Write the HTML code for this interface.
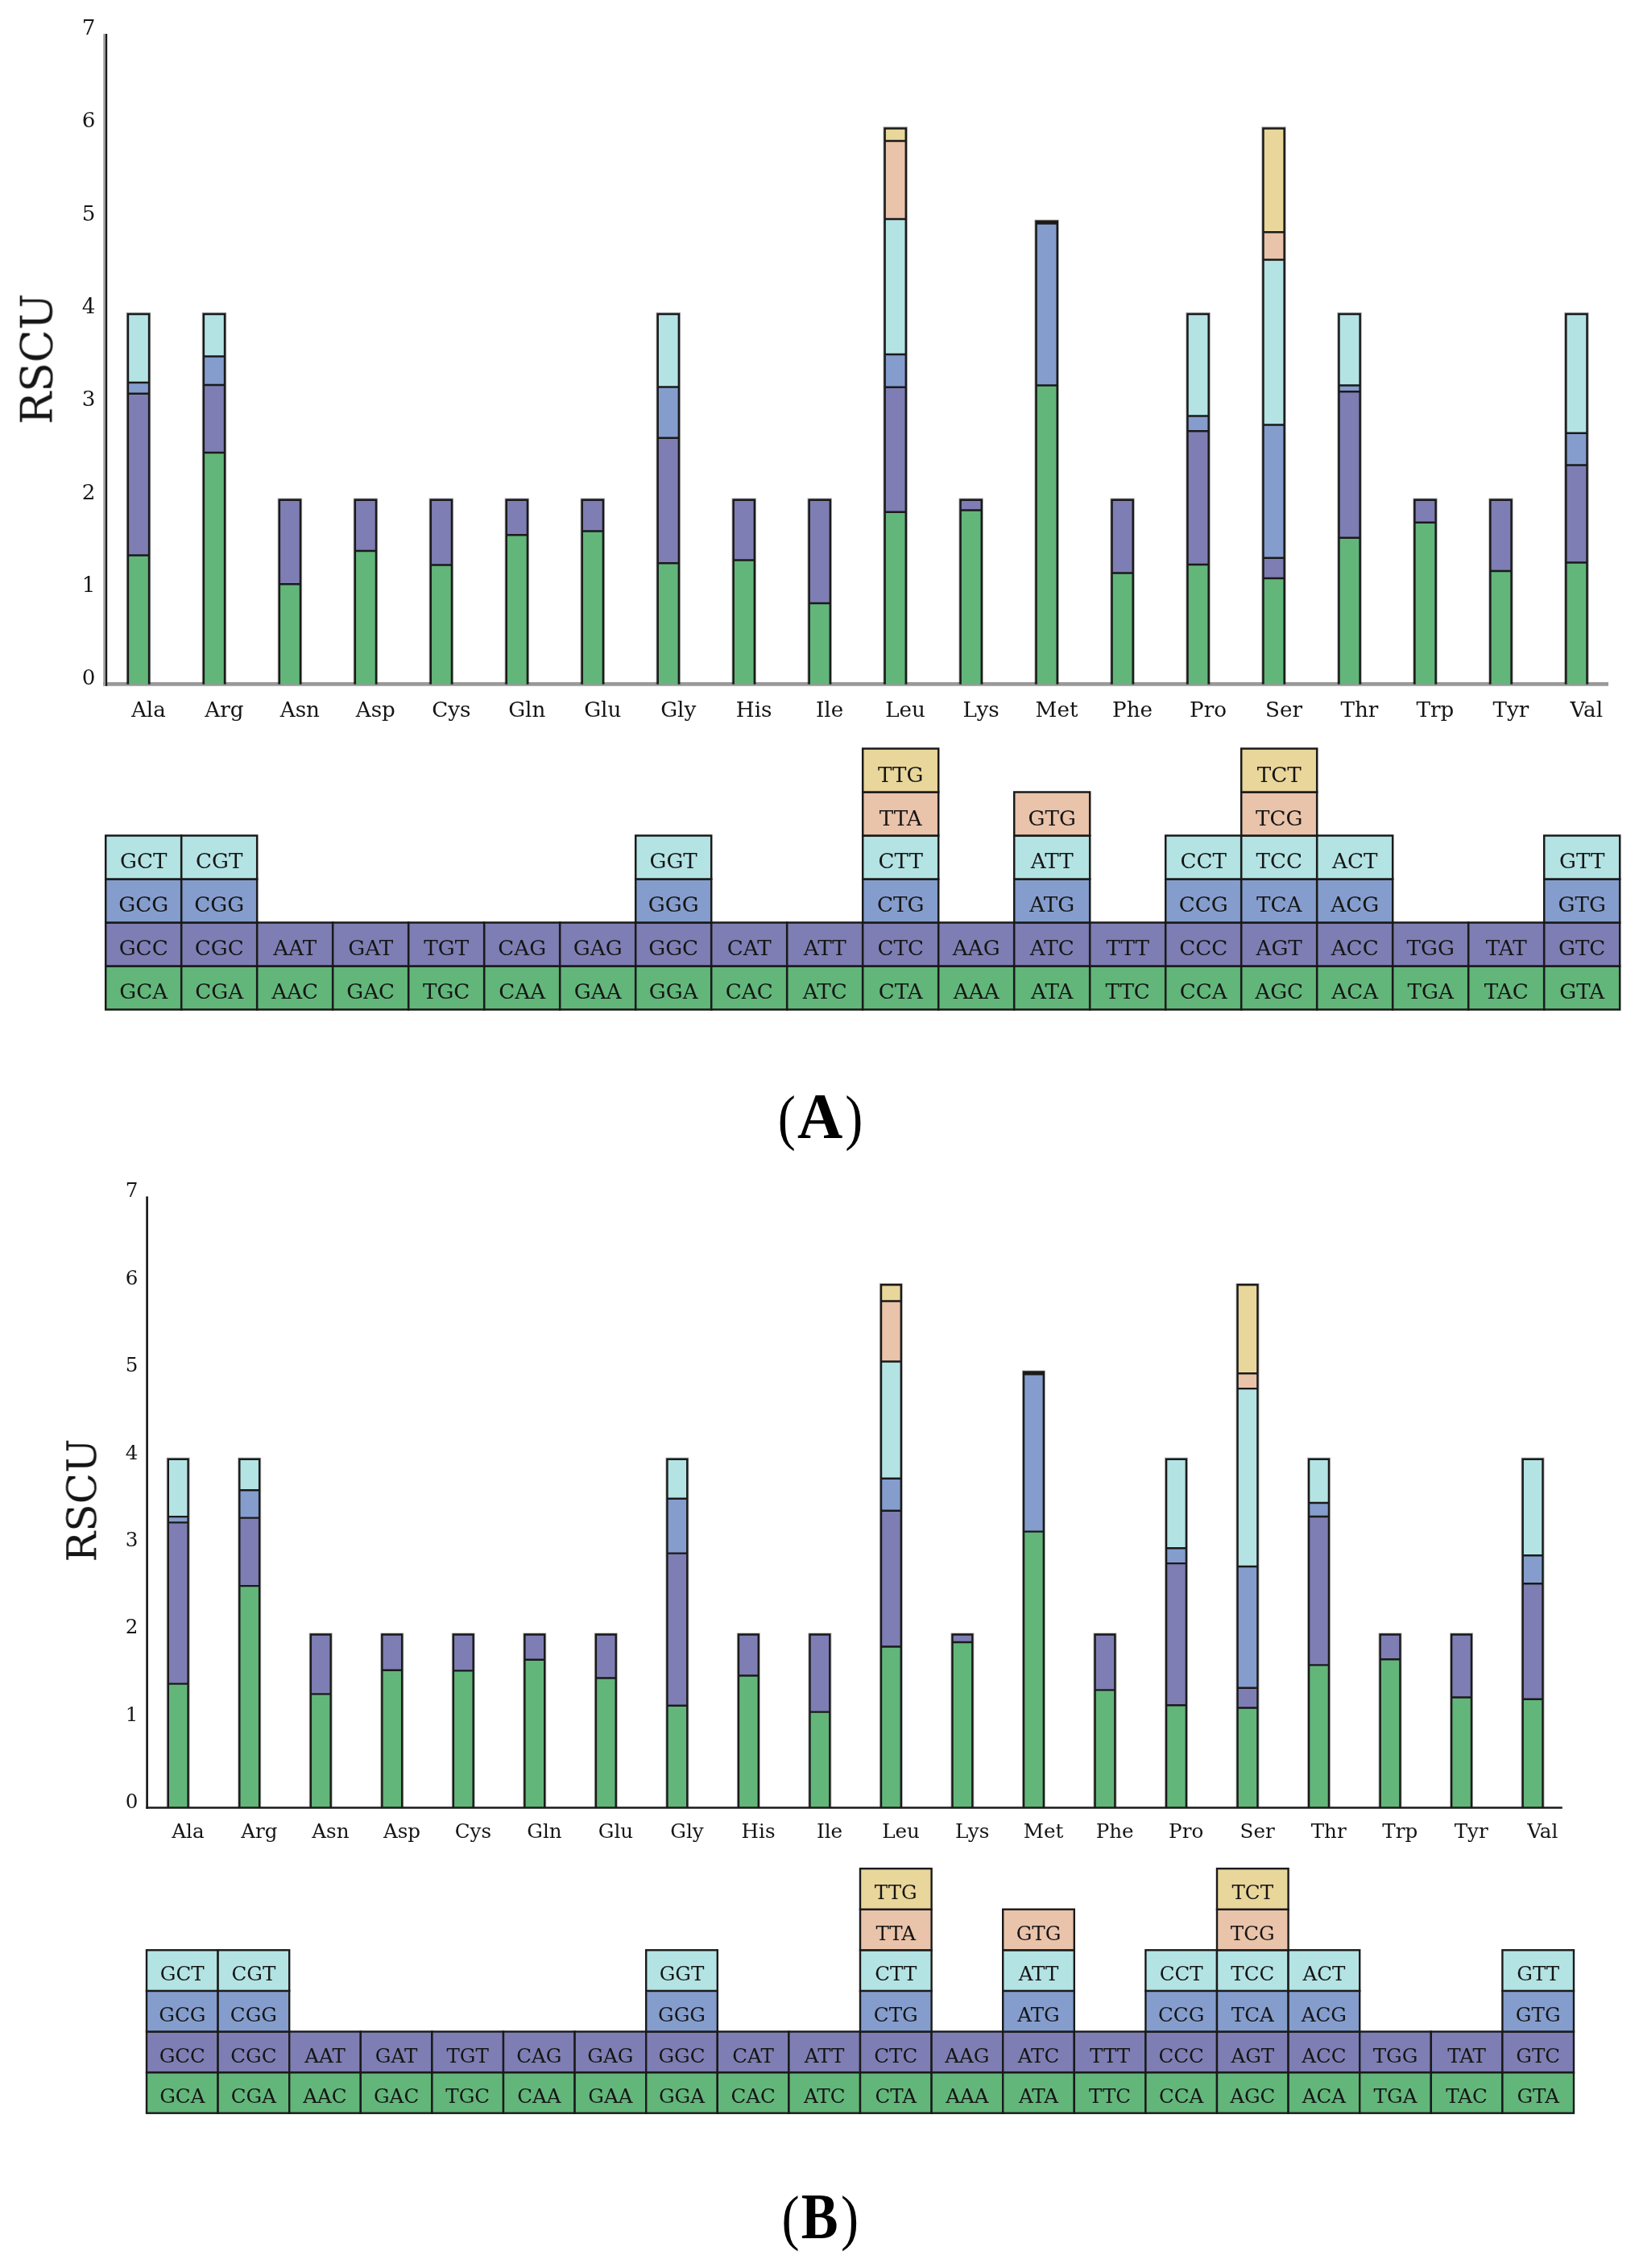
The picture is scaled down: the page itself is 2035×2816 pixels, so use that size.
<!DOCTYPE html>
<html><head><meta charset="utf-8"><title>RSCU</title>
<style>html,body{margin:0;padding:0;background:#fff;overflow:hidden}svg{display:block}</style>
</head><body>
<svg width="2035" height="2816" viewBox="0 0 2035 2816">
<defs><filter id="soft" x="0" y="0" width="100%" height="100%" filterUnits="userSpaceOnUse" color-interpolation-filters="sRGB"><feGaussianBlur stdDeviation="0.55"/></filter><filter id="softt" x="0" y="0" width="100%" height="100%" filterUnits="userSpaceOnUse" color-interpolation-filters="sRGB"><feGaussianBlur stdDeviation="0.45"/></filter></defs>
<rect width="2035" height="2816" fill="#fff"/>
<g filter="url(#soft)">
<line x1="128.3" y1="849.4" x2="1997" y2="849.4" stroke="#999" stroke-width="4.7"/>
<path d="M158.9 849.4V389.95H185.1V849.4" fill="none" stroke="#000" stroke-opacity="0.33" stroke-width="4.2"/>
<rect x="158.9" y="689.5" width="26.2" height="159.9" fill="#62b67a"/>
<rect x="158.9" y="488.8" width="26.2" height="200.7" fill="#7e7eb4"/>
<rect x="158.9" y="475.1" width="26.2" height="13.7" fill="#849dcd"/>
<rect x="158.9" y="388.7" width="26.2" height="86.4" fill="#b4e3e4"/>
<path d="M158.9 849.4V389.95H185.1V849.4M158.9 689.5H185.1M158.9 488.8H185.1M158.9 475.1H185.1" fill="none" stroke="#1a1a1a" stroke-width="2.5"/>
<path d="M252.87 849.4V389.95H279.07V849.4" fill="none" stroke="#000" stroke-opacity="0.33" stroke-width="4.2"/>
<rect x="252.87" y="562" width="26.2" height="287.4" fill="#62b67a"/>
<rect x="252.87" y="478.1" width="26.2" height="83.9" fill="#7e7eb4"/>
<rect x="252.87" y="442.4" width="26.2" height="35.7" fill="#849dcd"/>
<rect x="252.87" y="388.7" width="26.2" height="53.7" fill="#b4e3e4"/>
<path d="M252.87 849.4V389.95H279.07V849.4M252.87 562H279.07M252.87 478.1H279.07M252.87 442.4H279.07" fill="none" stroke="#1a1a1a" stroke-width="2.5"/>
<path d="M346.84 849.4V620.65H373.04V849.4" fill="none" stroke="#000" stroke-opacity="0.33" stroke-width="4.2"/>
<rect x="346.84" y="725.2" width="26.2" height="124.2" fill="#62b67a"/>
<rect x="346.84" y="619.4" width="26.2" height="105.8" fill="#7e7eb4"/>
<path d="M346.84 849.4V620.65H373.04V849.4M346.84 725.2H373.04" fill="none" stroke="#1a1a1a" stroke-width="2.5"/>
<path d="M440.81 849.4V620.65H467.01V849.4" fill="none" stroke="#000" stroke-opacity="0.33" stroke-width="4.2"/>
<rect x="440.81" y="684" width="26.2" height="165.4" fill="#62b67a"/>
<rect x="440.81" y="619.4" width="26.2" height="64.6" fill="#7e7eb4"/>
<path d="M440.81 849.4V620.65H467.01V849.4M440.81 684H467.01" fill="none" stroke="#1a1a1a" stroke-width="2.5"/>
<path d="M534.78 849.4V620.65H560.98V849.4" fill="none" stroke="#000" stroke-opacity="0.33" stroke-width="4.2"/>
<rect x="534.78" y="701.4" width="26.2" height="148" fill="#62b67a"/>
<rect x="534.78" y="619.4" width="26.2" height="82" fill="#7e7eb4"/>
<path d="M534.78 849.4V620.65H560.98V849.4M534.78 701.4H560.98" fill="none" stroke="#1a1a1a" stroke-width="2.5"/>
<path d="M628.75 849.4V620.65H654.95V849.4" fill="none" stroke="#000" stroke-opacity="0.33" stroke-width="4.2"/>
<rect x="628.75" y="664.2" width="26.2" height="185.2" fill="#62b67a"/>
<rect x="628.75" y="619.4" width="26.2" height="44.8" fill="#7e7eb4"/>
<path d="M628.75 849.4V620.65H654.95V849.4M628.75 664.2H654.95" fill="none" stroke="#1a1a1a" stroke-width="2.5"/>
<path d="M722.72 849.4V620.65H748.92V849.4" fill="none" stroke="#000" stroke-opacity="0.33" stroke-width="4.2"/>
<rect x="722.72" y="659.6" width="26.2" height="189.8" fill="#62b67a"/>
<rect x="722.72" y="619.4" width="26.2" height="40.2" fill="#7e7eb4"/>
<path d="M722.72 849.4V620.65H748.92V849.4M722.72 659.6H748.92" fill="none" stroke="#1a1a1a" stroke-width="2.5"/>
<path d="M816.69 849.4V389.95H842.89V849.4" fill="none" stroke="#000" stroke-opacity="0.33" stroke-width="4.2"/>
<rect x="816.69" y="699.3" width="26.2" height="150.1" fill="#62b67a"/>
<rect x="816.69" y="543.7" width="26.2" height="155.6" fill="#7e7eb4"/>
<rect x="816.69" y="480.6" width="26.2" height="63.1" fill="#849dcd"/>
<rect x="816.69" y="388.7" width="26.2" height="91.9" fill="#b4e3e4"/>
<path d="M816.69 849.4V389.95H842.89V849.4M816.69 699.3H842.89M816.69 543.7H842.89M816.69 480.6H842.89" fill="none" stroke="#1a1a1a" stroke-width="2.5"/>
<path d="M910.66 849.4V620.65H936.86V849.4" fill="none" stroke="#000" stroke-opacity="0.33" stroke-width="4.2"/>
<rect x="910.66" y="695.6" width="26.2" height="153.8" fill="#62b67a"/>
<rect x="910.66" y="619.4" width="26.2" height="76.2" fill="#7e7eb4"/>
<path d="M910.66 849.4V620.65H936.86V849.4M910.66 695.6H936.86" fill="none" stroke="#1a1a1a" stroke-width="2.5"/>
<path d="M1004.63 849.4V620.65H1030.83V849.4" fill="none" stroke="#000" stroke-opacity="0.33" stroke-width="4.2"/>
<rect x="1004.63" y="749" width="26.2" height="100.4" fill="#62b67a"/>
<rect x="1004.63" y="619.4" width="26.2" height="129.6" fill="#7e7eb4"/>
<path d="M1004.63 849.4V620.65H1030.83V849.4M1004.63 749H1030.83" fill="none" stroke="#1a1a1a" stroke-width="2.5"/>
<path d="M1098.6 849.4V159.45H1124.8V849.4" fill="none" stroke="#000" stroke-opacity="0.33" stroke-width="4.2"/>
<rect x="1098.6" y="635.7" width="26.2" height="213.7" fill="#62b67a"/>
<rect x="1098.6" y="480.7" width="26.2" height="155" fill="#7e7eb4"/>
<rect x="1098.6" y="440" width="26.2" height="40.7" fill="#849dcd"/>
<rect x="1098.6" y="271.9" width="26.2" height="168.1" fill="#b4e3e4"/>
<rect x="1098.6" y="175" width="26.2" height="96.9" fill="#e9c3aa"/>
<rect x="1098.6" y="158.2" width="26.2" height="16.8" fill="#e9d69a"/>
<path d="M1098.6 849.4V159.45H1124.8V849.4M1098.6 635.7H1124.8M1098.6 480.7H1124.8M1098.6 440H1124.8M1098.6 271.9H1124.8M1098.6 175H1124.8" fill="none" stroke="#1a1a1a" stroke-width="2.5"/>
<path d="M1192.57 849.4V620.65H1218.77V849.4" fill="none" stroke="#000" stroke-opacity="0.33" stroke-width="4.2"/>
<rect x="1192.57" y="633.4" width="26.2" height="216" fill="#62b67a"/>
<rect x="1192.57" y="619.4" width="26.2" height="14" fill="#7e7eb4"/>
<path d="M1192.57 849.4V620.65H1218.77V849.4M1192.57 633.4H1218.77" fill="none" stroke="#1a1a1a" stroke-width="2.5"/>
<path d="M1286.54 849.4V274.75H1312.74V849.4" fill="none" stroke="#000" stroke-opacity="0.33" stroke-width="4.2"/>
<rect x="1286.54" y="478.5" width="26.2" height="370.9" fill="#62b67a"/>
<rect x="1286.54" y="277.6" width="26.2" height="200.9" fill="#849dcd"/>
<rect x="1286.54" y="276.5" width="26.2" height="1.1" fill="#b4e3e4"/>
<rect x="1286.54" y="273.5" width="26.2" height="3" fill="#e9c3aa"/>
<path d="M1286.54 849.4V274.75H1312.74V849.4M1286.54 478.5H1312.74M1286.54 478.5H1312.74M1286.54 277.6H1312.74M1286.54 276.5H1312.74" fill="none" stroke="#1a1a1a" stroke-width="2.5"/>
<path d="M1380.51 849.4V620.65H1406.71V849.4" fill="none" stroke="#000" stroke-opacity="0.33" stroke-width="4.2"/>
<rect x="1380.51" y="711.4" width="26.2" height="138" fill="#62b67a"/>
<rect x="1380.51" y="619.4" width="26.2" height="92" fill="#7e7eb4"/>
<path d="M1380.51 849.4V620.65H1406.71V849.4M1380.51 711.4H1406.71" fill="none" stroke="#1a1a1a" stroke-width="2.5"/>
<path d="M1474.48 849.4V389.95H1500.68V849.4" fill="none" stroke="#000" stroke-opacity="0.33" stroke-width="4.2"/>
<rect x="1474.48" y="701" width="26.2" height="148.4" fill="#62b67a"/>
<rect x="1474.48" y="535.2" width="26.2" height="165.8" fill="#7e7eb4"/>
<rect x="1474.48" y="516.6" width="26.2" height="18.6" fill="#849dcd"/>
<rect x="1474.48" y="388.7" width="26.2" height="127.9" fill="#b4e3e4"/>
<path d="M1474.48 849.4V389.95H1500.68V849.4M1474.48 701H1500.68M1474.48 535.2H1500.68M1474.48 516.6H1500.68" fill="none" stroke="#1a1a1a" stroke-width="2.5"/>
<path d="M1568.45 849.4V159.45H1594.65V849.4" fill="none" stroke="#000" stroke-opacity="0.33" stroke-width="4.2"/>
<rect x="1568.45" y="718" width="26.2" height="131.4" fill="#62b67a"/>
<rect x="1568.45" y="692.8" width="26.2" height="25.2" fill="#7e7eb4"/>
<rect x="1568.45" y="527.4" width="26.2" height="165.4" fill="#849dcd"/>
<rect x="1568.45" y="322.5" width="26.2" height="204.9" fill="#b4e3e4"/>
<rect x="1568.45" y="288.2" width="26.2" height="34.3" fill="#e9c3aa"/>
<rect x="1568.45" y="158.2" width="26.2" height="130" fill="#e9d69a"/>
<path d="M1568.45 849.4V159.45H1594.65V849.4M1568.45 718H1594.65M1568.45 692.8H1594.65M1568.45 527.4H1594.65M1568.45 322.5H1594.65M1568.45 288.2H1594.65" fill="none" stroke="#1a1a1a" stroke-width="2.5"/>
<path d="M1662.42 849.4V389.95H1688.62V849.4" fill="none" stroke="#000" stroke-opacity="0.33" stroke-width="4.2"/>
<rect x="1662.42" y="667.7" width="26.2" height="181.7" fill="#62b67a"/>
<rect x="1662.42" y="486.3" width="26.2" height="181.4" fill="#7e7eb4"/>
<rect x="1662.42" y="478.5" width="26.2" height="7.8" fill="#849dcd"/>
<rect x="1662.42" y="388.7" width="26.2" height="89.8" fill="#b4e3e4"/>
<path d="M1662.42 849.4V389.95H1688.62V849.4M1662.42 667.7H1688.62M1662.42 486.3H1688.62M1662.42 478.5H1688.62" fill="none" stroke="#1a1a1a" stroke-width="2.5"/>
<path d="M1756.39 849.4V620.65H1782.59V849.4" fill="none" stroke="#000" stroke-opacity="0.33" stroke-width="4.2"/>
<rect x="1756.39" y="648.8" width="26.2" height="200.6" fill="#62b67a"/>
<rect x="1756.39" y="619.4" width="26.2" height="29.4" fill="#7e7eb4"/>
<path d="M1756.39 849.4V620.65H1782.59V849.4M1756.39 648.8H1782.59" fill="none" stroke="#1a1a1a" stroke-width="2.5"/>
<path d="M1850.36 849.4V620.65H1876.56V849.4" fill="none" stroke="#000" stroke-opacity="0.33" stroke-width="4.2"/>
<rect x="1850.36" y="709.1" width="26.2" height="140.3" fill="#62b67a"/>
<rect x="1850.36" y="619.4" width="26.2" height="89.7" fill="#7e7eb4"/>
<path d="M1850.36 849.4V620.65H1876.56V849.4M1850.36 709.1H1876.56" fill="none" stroke="#1a1a1a" stroke-width="2.5"/>
<path d="M1944.33 849.4V389.95H1970.53V849.4" fill="none" stroke="#000" stroke-opacity="0.33" stroke-width="4.2"/>
<rect x="1944.33" y="698.4" width="26.2" height="151" fill="#62b67a"/>
<rect x="1944.33" y="577.6" width="26.2" height="120.8" fill="#7e7eb4"/>
<rect x="1944.33" y="537.8" width="26.2" height="39.8" fill="#849dcd"/>
<rect x="1944.33" y="388.7" width="26.2" height="149.1" fill="#b4e3e4"/>
<path d="M1944.33 849.4V389.95H1970.53V849.4M1944.33 698.4H1970.53M1944.33 577.6H1970.53M1944.33 537.8H1970.53" fill="none" stroke="#1a1a1a" stroke-width="2.5"/>
<line x1="129.65" y1="42" x2="129.65" y2="851.75" stroke="#999" stroke-width="2.7"/>
<line x1="132.1" y1="42" x2="132.1" y2="851.75" stroke="#1a1a1a" stroke-width="2.2"/>
<g stroke-width="2.5" stroke="#1a1a1a">
<rect x="131.2" y="1199.5" width="94" height="54" fill="#62b67a"/>
<rect x="225.2" y="1199.5" width="94" height="54" fill="#62b67a"/>
<rect x="319.2" y="1199.5" width="94" height="54" fill="#62b67a"/>
<rect x="413.2" y="1199.5" width="94" height="54" fill="#62b67a"/>
<rect x="507.2" y="1199.5" width="94" height="54" fill="#62b67a"/>
<rect x="601.2" y="1199.5" width="94" height="54" fill="#62b67a"/>
<rect x="695.2" y="1199.5" width="94" height="54" fill="#62b67a"/>
<rect x="789.2" y="1199.5" width="94" height="54" fill="#62b67a"/>
<rect x="883.2" y="1199.5" width="94" height="54" fill="#62b67a"/>
<rect x="977.2" y="1199.5" width="94" height="54" fill="#62b67a"/>
<rect x="1071.2" y="1199.5" width="94" height="54" fill="#62b67a"/>
<rect x="1165.2" y="1199.5" width="94" height="54" fill="#62b67a"/>
<rect x="1259.2" y="1199.5" width="94" height="54" fill="#62b67a"/>
<rect x="1353.2" y="1199.5" width="94" height="54" fill="#62b67a"/>
<rect x="1447.2" y="1199.5" width="94" height="54" fill="#62b67a"/>
<rect x="1541.2" y="1199.5" width="94" height="54" fill="#62b67a"/>
<rect x="1635.2" y="1199.5" width="94" height="54" fill="#62b67a"/>
<rect x="1729.2" y="1199.5" width="94" height="54" fill="#62b67a"/>
<rect x="1823.2" y="1199.5" width="94" height="54" fill="#62b67a"/>
<rect x="1917.2" y="1199.5" width="94" height="54" fill="#62b67a"/>
<rect x="131.2" y="1145.5" width="94" height="54" fill="#7e7eb4"/>
<rect x="225.2" y="1145.5" width="94" height="54" fill="#7e7eb4"/>
<rect x="319.2" y="1145.5" width="94" height="54" fill="#7e7eb4"/>
<rect x="413.2" y="1145.5" width="94" height="54" fill="#7e7eb4"/>
<rect x="507.2" y="1145.5" width="94" height="54" fill="#7e7eb4"/>
<rect x="601.2" y="1145.5" width="94" height="54" fill="#7e7eb4"/>
<rect x="695.2" y="1145.5" width="94" height="54" fill="#7e7eb4"/>
<rect x="789.2" y="1145.5" width="94" height="54" fill="#7e7eb4"/>
<rect x="883.2" y="1145.5" width="94" height="54" fill="#7e7eb4"/>
<rect x="977.2" y="1145.5" width="94" height="54" fill="#7e7eb4"/>
<rect x="1071.2" y="1145.5" width="94" height="54" fill="#7e7eb4"/>
<rect x="1165.2" y="1145.5" width="94" height="54" fill="#7e7eb4"/>
<rect x="1259.2" y="1145.5" width="94" height="54" fill="#7e7eb4"/>
<rect x="1353.2" y="1145.5" width="94" height="54" fill="#7e7eb4"/>
<rect x="1447.2" y="1145.5" width="94" height="54" fill="#7e7eb4"/>
<rect x="1541.2" y="1145.5" width="94" height="54" fill="#7e7eb4"/>
<rect x="1635.2" y="1145.5" width="94" height="54" fill="#7e7eb4"/>
<rect x="1729.2" y="1145.5" width="94" height="54" fill="#7e7eb4"/>
<rect x="1823.2" y="1145.5" width="94" height="54" fill="#7e7eb4"/>
<rect x="1917.2" y="1145.5" width="94" height="54" fill="#7e7eb4"/>
<rect x="131.2" y="1091.5" width="94" height="54" fill="#849dcd"/>
<rect x="225.2" y="1091.5" width="94" height="54" fill="#849dcd"/>
<rect x="789.2" y="1091.5" width="94" height="54" fill="#849dcd"/>
<rect x="1071.2" y="1091.5" width="94" height="54" fill="#849dcd"/>
<rect x="1259.2" y="1091.5" width="94" height="54" fill="#849dcd"/>
<rect x="1447.2" y="1091.5" width="94" height="54" fill="#849dcd"/>
<rect x="1541.2" y="1091.5" width="94" height="54" fill="#849dcd"/>
<rect x="1635.2" y="1091.5" width="94" height="54" fill="#849dcd"/>
<rect x="1917.2" y="1091.5" width="94" height="54" fill="#849dcd"/>
<rect x="131.2" y="1037.5" width="94" height="54" fill="#b4e3e4"/>
<rect x="225.2" y="1037.5" width="94" height="54" fill="#b4e3e4"/>
<rect x="789.2" y="1037.5" width="94" height="54" fill="#b4e3e4"/>
<rect x="1071.2" y="1037.5" width="94" height="54" fill="#b4e3e4"/>
<rect x="1259.2" y="1037.5" width="94" height="54" fill="#b4e3e4"/>
<rect x="1447.2" y="1037.5" width="94" height="54" fill="#b4e3e4"/>
<rect x="1541.2" y="1037.5" width="94" height="54" fill="#b4e3e4"/>
<rect x="1635.2" y="1037.5" width="94" height="54" fill="#b4e3e4"/>
<rect x="1917.2" y="1037.5" width="94" height="54" fill="#b4e3e4"/>
<rect x="1071.2" y="983.5" width="94" height="54" fill="#e9c3aa"/>
<rect x="1259.2" y="983.5" width="94" height="54" fill="#e9c3aa"/>
<rect x="1541.2" y="983.5" width="94" height="54" fill="#e9c3aa"/>
<rect x="1071.2" y="929.5" width="94" height="54" fill="#e9d69a"/>
<rect x="1541.2" y="929.5" width="94" height="54" fill="#e9d69a"/>
</g>
</g>
<g filter="url(#softt)" font-family="'DejaVu Serif', 'Liberation Serif', serif" fill="#151515" font-size="26.2" text-anchor="middle">
<text x="110.2" y="850.2">0</text>
<text x="110.2" y="734.9">1</text>
<text x="110.2" y="619.6">2</text>
<text x="110.2" y="504.3">3</text>
<text x="110.2" y="389">4</text>
<text x="110.2" y="273.7">5</text>
<text x="110.2" y="158.4">6</text>
<text x="110.2" y="43.1">7</text>
<text x="184.4" y="890">Ala</text>
<text x="278.37" y="890">Arg</text>
<text x="372.34" y="890">Asn</text>
<text x="466.31" y="890">Asp</text>
<text x="560.28" y="890">Cys</text>
<text x="654.25" y="890">Gln</text>
<text x="748.22" y="890">Glu</text>
<text x="842.19" y="890">Gly</text>
<text x="936.16" y="890">His</text>
<text x="1030.13" y="890">Ile</text>
<text x="1124.1" y="890">Leu</text>
<text x="1218.07" y="890">Lys</text>
<text x="1312.04" y="890">Met</text>
<text x="1406.01" y="890">Phe</text>
<text x="1499.98" y="890">Pro</text>
<text x="1593.95" y="890">Ser</text>
<text x="1687.92" y="890">Thr</text>
<text x="1781.89" y="890">Trp</text>
<text x="1875.86" y="890">Tyr</text>
<text x="1969.83" y="890">Val</text>
<text font-size="53.4" transform="translate(64.7 445.7) rotate(-90)">RSCU</text>
<text x="178.2" y="1239.8">GCA</text>
<text x="272.2" y="1239.8">CGA</text>
<text x="366.2" y="1239.8">AAC</text>
<text x="460.2" y="1239.8">GAC</text>
<text x="554.2" y="1239.8">TGC</text>
<text x="648.2" y="1239.8">CAA</text>
<text x="742.2" y="1239.8">GAA</text>
<text x="836.2" y="1239.8">GGA</text>
<text x="930.2" y="1239.8">CAC</text>
<text x="1024.2" y="1239.8">ATC</text>
<text x="1118.2" y="1239.8">CTA</text>
<text x="1212.2" y="1239.8">AAA</text>
<text x="1306.2" y="1239.8">ATA</text>
<text x="1400.2" y="1239.8">TTC</text>
<text x="1494.2" y="1239.8">CCA</text>
<text x="1588.2" y="1239.8">AGC</text>
<text x="1682.2" y="1239.8">ACA</text>
<text x="1776.2" y="1239.8">TGA</text>
<text x="1870.2" y="1239.8">TAC</text>
<text x="1964.2" y="1239.8">GTA</text>
<text x="178.2" y="1185.8">GCC</text>
<text x="272.2" y="1185.8">CGC</text>
<text x="366.2" y="1185.8">AAT</text>
<text x="460.2" y="1185.8">GAT</text>
<text x="554.2" y="1185.8">TGT</text>
<text x="648.2" y="1185.8">CAG</text>
<text x="742.2" y="1185.8">GAG</text>
<text x="836.2" y="1185.8">GGC</text>
<text x="930.2" y="1185.8">CAT</text>
<text x="1024.2" y="1185.8">ATT</text>
<text x="1118.2" y="1185.8">CTC</text>
<text x="1212.2" y="1185.8">AAG</text>
<text x="1306.2" y="1185.8">ATC</text>
<text x="1400.2" y="1185.8">TTT</text>
<text x="1494.2" y="1185.8">CCC</text>
<text x="1588.2" y="1185.8">AGT</text>
<text x="1682.2" y="1185.8">ACC</text>
<text x="1776.2" y="1185.8">TGG</text>
<text x="1870.2" y="1185.8">TAT</text>
<text x="1964.2" y="1185.8">GTC</text>
<text x="178.2" y="1131.8">GCG</text>
<text x="272.2" y="1131.8">CGG</text>
<text x="836.2" y="1131.8">GGG</text>
<text x="1118.2" y="1131.8">CTG</text>
<text x="1306.2" y="1131.8">ATG</text>
<text x="1494.2" y="1131.8">CCG</text>
<text x="1588.2" y="1131.8">TCA</text>
<text x="1682.2" y="1131.8">ACG</text>
<text x="1964.2" y="1131.8">GTG</text>
<text x="178.2" y="1077.8">GCT</text>
<text x="272.2" y="1077.8">CGT</text>
<text x="836.2" y="1077.8">GGT</text>
<text x="1118.2" y="1077.8">CTT</text>
<text x="1306.2" y="1077.8">ATT</text>
<text x="1494.2" y="1077.8">CCT</text>
<text x="1588.2" y="1077.8">TCC</text>
<text x="1682.2" y="1077.8">ACT</text>
<text x="1964.2" y="1077.8">GTT</text>
<text x="1118.2" y="1024.9">TTA</text>
<text x="1306.2" y="1024.9">GTG</text>
<text x="1588.2" y="1024.9">TCG</text>
<text x="1118.2" y="970.9">TTG</text>
<text x="1588.2" y="970.9">TCT</text>
</g>
<g filter="url(#soft)">
<path d="M208.8 2244.5V1811.8H233.6V2244.5" fill="none" stroke="#000" stroke-opacity="0.33" stroke-width="4.1"/>
<rect x="208.8" y="2090.6" width="24.8" height="153.9" fill="#62b67a"/>
<rect x="208.8" y="1890.4" width="24.8" height="200.2" fill="#7e7eb4"/>
<rect x="208.8" y="1883.1" width="24.8" height="7.3" fill="#849dcd"/>
<rect x="208.8" y="1810.6" width="24.8" height="72.5" fill="#b4e3e4"/>
<path d="M208.8 2244.5V1811.8H233.6V2244.5M208.8 2090.6H233.6M208.8 1890.4H233.6M208.8 1883.1H233.6" fill="none" stroke="#1a1a1a" stroke-width="2.4"/>
<path d="M297.32 2244.5V1811.8H322.12V2244.5" fill="none" stroke="#000" stroke-opacity="0.33" stroke-width="4.1"/>
<rect x="297.32" y="1969.1" width="24.8" height="275.4" fill="#62b67a"/>
<rect x="297.32" y="1884.6" width="24.8" height="84.5" fill="#7e7eb4"/>
<rect x="297.32" y="1850.2" width="24.8" height="34.4" fill="#849dcd"/>
<rect x="297.32" y="1810.6" width="24.8" height="39.6" fill="#b4e3e4"/>
<path d="M297.32 2244.5V1811.8H322.12V2244.5M297.32 1969.1H322.12M297.32 1884.6H322.12M297.32 1850.2H322.12" fill="none" stroke="#1a1a1a" stroke-width="2.4"/>
<path d="M385.84 2244.5V2029.5H410.64V2244.5" fill="none" stroke="#000" stroke-opacity="0.33" stroke-width="4.1"/>
<rect x="385.84" y="2103.4" width="24.8" height="141.1" fill="#62b67a"/>
<rect x="385.84" y="2028.3" width="24.8" height="75.1" fill="#7e7eb4"/>
<path d="M385.84 2244.5V2029.5H410.64V2244.5M385.84 2103.4H410.64" fill="none" stroke="#1a1a1a" stroke-width="2.4"/>
<path d="M474.36 2244.5V2029.5H499.16V2244.5" fill="none" stroke="#000" stroke-opacity="0.33" stroke-width="4.1"/>
<rect x="474.36" y="2073.8" width="24.8" height="170.7" fill="#62b67a"/>
<rect x="474.36" y="2028.3" width="24.8" height="45.5" fill="#7e7eb4"/>
<path d="M474.36 2244.5V2029.5H499.16V2244.5M474.36 2073.8H499.16" fill="none" stroke="#1a1a1a" stroke-width="2.4"/>
<path d="M562.88 2244.5V2029.5H587.68V2244.5" fill="none" stroke="#000" stroke-opacity="0.33" stroke-width="4.1"/>
<rect x="562.88" y="2074.4" width="24.8" height="170.1" fill="#62b67a"/>
<rect x="562.88" y="2028.3" width="24.8" height="46.1" fill="#7e7eb4"/>
<path d="M562.88 2244.5V2029.5H587.68V2244.5M562.88 2074.4H587.68" fill="none" stroke="#1a1a1a" stroke-width="2.4"/>
<path d="M651.4 2244.5V2029.5H676.2V2244.5" fill="none" stroke="#000" stroke-opacity="0.33" stroke-width="4.1"/>
<rect x="651.4" y="2060.7" width="24.8" height="183.8" fill="#62b67a"/>
<rect x="651.4" y="2028.3" width="24.8" height="32.4" fill="#7e7eb4"/>
<path d="M651.4 2244.5V2029.5H676.2V2244.5M651.4 2060.7H676.2" fill="none" stroke="#1a1a1a" stroke-width="2.4"/>
<path d="M739.92 2244.5V2029.5H764.72V2244.5" fill="none" stroke="#000" stroke-opacity="0.33" stroke-width="4.1"/>
<rect x="739.92" y="2083.5" width="24.8" height="161" fill="#62b67a"/>
<rect x="739.92" y="2028.3" width="24.8" height="55.2" fill="#7e7eb4"/>
<path d="M739.92 2244.5V2029.5H764.72V2244.5M739.92 2083.5H764.72" fill="none" stroke="#1a1a1a" stroke-width="2.4"/>
<path d="M828.44 2244.5V1811.8H853.24V2244.5" fill="none" stroke="#000" stroke-opacity="0.33" stroke-width="4.1"/>
<rect x="828.44" y="2117.7" width="24.8" height="126.8" fill="#62b67a"/>
<rect x="828.44" y="1928.6" width="24.8" height="189.1" fill="#7e7eb4"/>
<rect x="828.44" y="1860.8" width="24.8" height="67.8" fill="#849dcd"/>
<rect x="828.44" y="1810.6" width="24.8" height="50.2" fill="#b4e3e4"/>
<path d="M828.44 2244.5V1811.8H853.24V2244.5M828.44 2117.7H853.24M828.44 1928.6H853.24M828.44 1860.8H853.24" fill="none" stroke="#1a1a1a" stroke-width="2.4"/>
<path d="M916.96 2244.5V2029.5H941.76V2244.5" fill="none" stroke="#000" stroke-opacity="0.33" stroke-width="4.1"/>
<rect x="916.96" y="2080.5" width="24.8" height="164" fill="#62b67a"/>
<rect x="916.96" y="2028.3" width="24.8" height="52.2" fill="#7e7eb4"/>
<path d="M916.96 2244.5V2029.5H941.76V2244.5M916.96 2080.5H941.76" fill="none" stroke="#1a1a1a" stroke-width="2.4"/>
<path d="M1005.48 2244.5V2029.5H1030.28V2244.5" fill="none" stroke="#000" stroke-opacity="0.33" stroke-width="4.1"/>
<rect x="1005.48" y="2125.6" width="24.8" height="118.9" fill="#62b67a"/>
<rect x="1005.48" y="2028.3" width="24.8" height="97.3" fill="#7e7eb4"/>
<path d="M1005.48 2244.5V2029.5H1030.28V2244.5M1005.48 2125.6H1030.28" fill="none" stroke="#1a1a1a" stroke-width="2.4"/>
<path d="M1094 2244.5V1595.2H1118.8V2244.5" fill="none" stroke="#000" stroke-opacity="0.33" stroke-width="4.1"/>
<rect x="1094" y="2044.5" width="24.8" height="200" fill="#62b67a"/>
<rect x="1094" y="1875.8" width="24.8" height="168.7" fill="#7e7eb4"/>
<rect x="1094" y="1835.7" width="24.8" height="40.1" fill="#849dcd"/>
<rect x="1094" y="1690.5" width="24.8" height="145.2" fill="#b4e3e4"/>
<rect x="1094" y="1615.5" width="24.8" height="75" fill="#e9c3aa"/>
<rect x="1094" y="1594" width="24.8" height="21.5" fill="#e9d69a"/>
<path d="M1094 2244.5V1595.2H1118.8V2244.5M1094 2044.5H1118.8M1094 1875.8H1118.8M1094 1835.7H1118.8M1094 1690.5H1118.8M1094 1615.5H1118.8" fill="none" stroke="#1a1a1a" stroke-width="2.4"/>
<path d="M1182.52 2244.5V2029.5H1207.32V2244.5" fill="none" stroke="#000" stroke-opacity="0.33" stroke-width="4.1"/>
<rect x="1182.52" y="2039" width="24.8" height="205.5" fill="#62b67a"/>
<rect x="1182.52" y="2028.3" width="24.8" height="10.7" fill="#7e7eb4"/>
<path d="M1182.52 2244.5V2029.5H1207.32V2244.5M1182.52 2039H1207.32" fill="none" stroke="#1a1a1a" stroke-width="2.4"/>
<path d="M1271.04 2244.5V1703.5H1295.84V2244.5" fill="none" stroke="#000" stroke-opacity="0.33" stroke-width="4.1"/>
<rect x="1271.04" y="1901.6" width="24.8" height="342.9" fill="#62b67a"/>
<rect x="1271.04" y="1706.4" width="24.8" height="195.2" fill="#849dcd"/>
<rect x="1271.04" y="1705.4" width="24.8" height="1" fill="#b4e3e4"/>
<rect x="1271.04" y="1702.3" width="24.8" height="3.1" fill="#e9c3aa"/>
<path d="M1271.04 2244.5V1703.5H1295.84V2244.5M1271.04 1901.6H1295.84M1271.04 1901.6H1295.84M1271.04 1706.4H1295.84M1271.04 1705.4H1295.84" fill="none" stroke="#1a1a1a" stroke-width="2.4"/>
<path d="M1359.56 2244.5V2029.5H1384.36V2244.5" fill="none" stroke="#000" stroke-opacity="0.33" stroke-width="4.1"/>
<rect x="1359.56" y="2098.4" width="24.8" height="146.1" fill="#62b67a"/>
<rect x="1359.56" y="2028.3" width="24.8" height="70.1" fill="#7e7eb4"/>
<path d="M1359.56 2244.5V2029.5H1384.36V2244.5M1359.56 2098.4H1384.36" fill="none" stroke="#1a1a1a" stroke-width="2.4"/>
<path d="M1448.08 2244.5V1811.8H1472.88V2244.5" fill="none" stroke="#000" stroke-opacity="0.33" stroke-width="4.1"/>
<rect x="1448.08" y="2117.3" width="24.8" height="127.2" fill="#62b67a"/>
<rect x="1448.08" y="1941.1" width="24.8" height="176.2" fill="#7e7eb4"/>
<rect x="1448.08" y="1922.2" width="24.8" height="18.9" fill="#849dcd"/>
<rect x="1448.08" y="1810.6" width="24.8" height="111.6" fill="#b4e3e4"/>
<path d="M1448.08 2244.5V1811.8H1472.88V2244.5M1448.08 2117.3H1472.88M1448.08 1941.1H1472.88M1448.08 1922.2H1472.88" fill="none" stroke="#1a1a1a" stroke-width="2.4"/>
<path d="M1536.6 2244.5V1595.2H1561.4V2244.5" fill="none" stroke="#000" stroke-opacity="0.33" stroke-width="4.1"/>
<rect x="1536.6" y="2120.5" width="24.8" height="124" fill="#62b67a"/>
<rect x="1536.6" y="2095.7" width="24.8" height="24.8" fill="#7e7eb4"/>
<rect x="1536.6" y="1945" width="24.8" height="150.7" fill="#849dcd"/>
<rect x="1536.6" y="1724.1" width="24.8" height="220.9" fill="#b4e3e4"/>
<rect x="1536.6" y="1705.2" width="24.8" height="18.9" fill="#e9c3aa"/>
<rect x="1536.6" y="1594" width="24.8" height="111.2" fill="#e9d69a"/>
<path d="M1536.6 2244.5V1595.2H1561.4V2244.5M1536.6 2120.5H1561.4M1536.6 2095.7H1561.4M1536.6 1945H1561.4M1536.6 1724.1H1561.4M1536.6 1705.2H1561.4" fill="none" stroke="#1a1a1a" stroke-width="2.4"/>
<path d="M1625.12 2244.5V1811.8H1649.92V2244.5" fill="none" stroke="#000" stroke-opacity="0.33" stroke-width="4.1"/>
<rect x="1625.12" y="2067.4" width="24.8" height="177.1" fill="#62b67a"/>
<rect x="1625.12" y="1883" width="24.8" height="184.4" fill="#7e7eb4"/>
<rect x="1625.12" y="1866" width="24.8" height="17" fill="#849dcd"/>
<rect x="1625.12" y="1810.6" width="24.8" height="55.4" fill="#b4e3e4"/>
<path d="M1625.12 2244.5V1811.8H1649.92V2244.5M1625.12 2067.4H1649.92M1625.12 1883H1649.92M1625.12 1866H1649.92" fill="none" stroke="#1a1a1a" stroke-width="2.4"/>
<path d="M1713.64 2244.5V2029.5H1738.44V2244.5" fill="none" stroke="#000" stroke-opacity="0.33" stroke-width="4.1"/>
<rect x="1713.64" y="2060.2" width="24.8" height="184.3" fill="#62b67a"/>
<rect x="1713.64" y="2028.3" width="24.8" height="31.9" fill="#7e7eb4"/>
<path d="M1713.64 2244.5V2029.5H1738.44V2244.5M1713.64 2060.2H1738.44" fill="none" stroke="#1a1a1a" stroke-width="2.4"/>
<path d="M1802.16 2244.5V2029.5H1826.96V2244.5" fill="none" stroke="#000" stroke-opacity="0.33" stroke-width="4.1"/>
<rect x="1802.16" y="2107.5" width="24.8" height="137" fill="#62b67a"/>
<rect x="1802.16" y="2028.3" width="24.8" height="79.2" fill="#7e7eb4"/>
<path d="M1802.16 2244.5V2029.5H1826.96V2244.5M1802.16 2107.5H1826.96" fill="none" stroke="#1a1a1a" stroke-width="2.4"/>
<path d="M1890.68 2244.5V1811.8H1915.48V2244.5" fill="none" stroke="#000" stroke-opacity="0.33" stroke-width="4.1"/>
<rect x="1890.68" y="2109.8" width="24.8" height="134.7" fill="#62b67a"/>
<rect x="1890.68" y="1966.2" width="24.8" height="143.6" fill="#7e7eb4"/>
<rect x="1890.68" y="1931.3" width="24.8" height="34.9" fill="#849dcd"/>
<rect x="1890.68" y="1810.6" width="24.8" height="120.7" fill="#b4e3e4"/>
<path d="M1890.68 2244.5V1811.8H1915.48V2244.5M1890.68 2109.8H1915.48M1890.68 1966.2H1915.48M1890.68 1931.3H1915.48" fill="none" stroke="#1a1a1a" stroke-width="2.4"/>
<line x1="182.6" y1="1485.6" x2="182.6" y2="2245.8" stroke="#1a1a1a" stroke-width="2.7"/>
<line x1="181.25" y1="2244.5" x2="1939.8" y2="2244.5" stroke="#1a1a1a" stroke-width="2.6"/>
<g stroke-width="2.4" stroke="#1a1a1a">
<rect x="182" y="2573.1" width="88.6" height="50.6" fill="#62b67a"/>
<rect x="270.6" y="2573.1" width="88.6" height="50.6" fill="#62b67a"/>
<rect x="359.2" y="2573.1" width="88.6" height="50.6" fill="#62b67a"/>
<rect x="447.8" y="2573.1" width="88.6" height="50.6" fill="#62b67a"/>
<rect x="536.4" y="2573.1" width="88.6" height="50.6" fill="#62b67a"/>
<rect x="625" y="2573.1" width="88.6" height="50.6" fill="#62b67a"/>
<rect x="713.6" y="2573.1" width="88.6" height="50.6" fill="#62b67a"/>
<rect x="802.2" y="2573.1" width="88.6" height="50.6" fill="#62b67a"/>
<rect x="890.8" y="2573.1" width="88.6" height="50.6" fill="#62b67a"/>
<rect x="979.4" y="2573.1" width="88.6" height="50.6" fill="#62b67a"/>
<rect x="1068" y="2573.1" width="88.6" height="50.6" fill="#62b67a"/>
<rect x="1156.6" y="2573.1" width="88.6" height="50.6" fill="#62b67a"/>
<rect x="1245.2" y="2573.1" width="88.6" height="50.6" fill="#62b67a"/>
<rect x="1333.8" y="2573.1" width="88.6" height="50.6" fill="#62b67a"/>
<rect x="1422.4" y="2573.1" width="88.6" height="50.6" fill="#62b67a"/>
<rect x="1511" y="2573.1" width="88.6" height="50.6" fill="#62b67a"/>
<rect x="1599.6" y="2573.1" width="88.6" height="50.6" fill="#62b67a"/>
<rect x="1688.2" y="2573.1" width="88.6" height="50.6" fill="#62b67a"/>
<rect x="1776.8" y="2573.1" width="88.6" height="50.6" fill="#62b67a"/>
<rect x="1865.4" y="2573.1" width="88.6" height="50.6" fill="#62b67a"/>
<rect x="182" y="2522.5" width="88.6" height="50.6" fill="#7e7eb4"/>
<rect x="270.6" y="2522.5" width="88.6" height="50.6" fill="#7e7eb4"/>
<rect x="359.2" y="2522.5" width="88.6" height="50.6" fill="#7e7eb4"/>
<rect x="447.8" y="2522.5" width="88.6" height="50.6" fill="#7e7eb4"/>
<rect x="536.4" y="2522.5" width="88.6" height="50.6" fill="#7e7eb4"/>
<rect x="625" y="2522.5" width="88.6" height="50.6" fill="#7e7eb4"/>
<rect x="713.6" y="2522.5" width="88.6" height="50.6" fill="#7e7eb4"/>
<rect x="802.2" y="2522.5" width="88.6" height="50.6" fill="#7e7eb4"/>
<rect x="890.8" y="2522.5" width="88.6" height="50.6" fill="#7e7eb4"/>
<rect x="979.4" y="2522.5" width="88.6" height="50.6" fill="#7e7eb4"/>
<rect x="1068" y="2522.5" width="88.6" height="50.6" fill="#7e7eb4"/>
<rect x="1156.6" y="2522.5" width="88.6" height="50.6" fill="#7e7eb4"/>
<rect x="1245.2" y="2522.5" width="88.6" height="50.6" fill="#7e7eb4"/>
<rect x="1333.8" y="2522.5" width="88.6" height="50.6" fill="#7e7eb4"/>
<rect x="1422.4" y="2522.5" width="88.6" height="50.6" fill="#7e7eb4"/>
<rect x="1511" y="2522.5" width="88.6" height="50.6" fill="#7e7eb4"/>
<rect x="1599.6" y="2522.5" width="88.6" height="50.6" fill="#7e7eb4"/>
<rect x="1688.2" y="2522.5" width="88.6" height="50.6" fill="#7e7eb4"/>
<rect x="1776.8" y="2522.5" width="88.6" height="50.6" fill="#7e7eb4"/>
<rect x="1865.4" y="2522.5" width="88.6" height="50.6" fill="#7e7eb4"/>
<rect x="182" y="2471.9" width="88.6" height="50.6" fill="#849dcd"/>
<rect x="270.6" y="2471.9" width="88.6" height="50.6" fill="#849dcd"/>
<rect x="802.2" y="2471.9" width="88.6" height="50.6" fill="#849dcd"/>
<rect x="1068" y="2471.9" width="88.6" height="50.6" fill="#849dcd"/>
<rect x="1245.2" y="2471.9" width="88.6" height="50.6" fill="#849dcd"/>
<rect x="1422.4" y="2471.9" width="88.6" height="50.6" fill="#849dcd"/>
<rect x="1511" y="2471.9" width="88.6" height="50.6" fill="#849dcd"/>
<rect x="1599.6" y="2471.9" width="88.6" height="50.6" fill="#849dcd"/>
<rect x="1865.4" y="2471.9" width="88.6" height="50.6" fill="#849dcd"/>
<rect x="182" y="2421.3" width="88.6" height="50.6" fill="#b4e3e4"/>
<rect x="270.6" y="2421.3" width="88.6" height="50.6" fill="#b4e3e4"/>
<rect x="802.2" y="2421.3" width="88.6" height="50.6" fill="#b4e3e4"/>
<rect x="1068" y="2421.3" width="88.6" height="50.6" fill="#b4e3e4"/>
<rect x="1245.2" y="2421.3" width="88.6" height="50.6" fill="#b4e3e4"/>
<rect x="1422.4" y="2421.3" width="88.6" height="50.6" fill="#b4e3e4"/>
<rect x="1511" y="2421.3" width="88.6" height="50.6" fill="#b4e3e4"/>
<rect x="1599.6" y="2421.3" width="88.6" height="50.6" fill="#b4e3e4"/>
<rect x="1865.4" y="2421.3" width="88.6" height="50.6" fill="#b4e3e4"/>
<rect x="1068" y="2370.7" width="88.6" height="50.6" fill="#e9c3aa"/>
<rect x="1245.2" y="2370.7" width="88.6" height="50.6" fill="#e9c3aa"/>
<rect x="1511" y="2370.7" width="88.6" height="50.6" fill="#e9c3aa"/>
<rect x="1068" y="2320.1" width="88.6" height="50.6" fill="#e9d69a"/>
<rect x="1511" y="2320.1" width="88.6" height="50.6" fill="#e9d69a"/>
</g>
</g>
<g filter="url(#softt)" font-family="'DejaVu Serif', 'Liberation Serif', serif" fill="#151515" font-size="24.6" text-anchor="middle">
<text x="163.7" y="2245.1">0</text>
<text x="163.7" y="2136.7">1</text>
<text x="163.7" y="2028.3">2</text>
<text x="163.7" y="1919.9">3</text>
<text x="163.7" y="1811.5">4</text>
<text x="163.7" y="1703.1">5</text>
<text x="163.7" y="1594.7">6</text>
<text x="163.7" y="1486.3">7</text>
<text x="233.4" y="2281.8">Ala</text>
<text x="321.92" y="2281.8">Arg</text>
<text x="410.44" y="2281.8">Asn</text>
<text x="498.96" y="2281.8">Asp</text>
<text x="587.48" y="2281.8">Cys</text>
<text x="676" y="2281.8">Gln</text>
<text x="764.52" y="2281.8">Glu</text>
<text x="853.04" y="2281.8">Gly</text>
<text x="941.56" y="2281.8">His</text>
<text x="1030.08" y="2281.8">Ile</text>
<text x="1118.6" y="2281.8">Leu</text>
<text x="1207.12" y="2281.8">Lys</text>
<text x="1295.64" y="2281.8">Met</text>
<text x="1384.16" y="2281.8">Phe</text>
<text x="1472.68" y="2281.8">Pro</text>
<text x="1561.2" y="2281.8">Ser</text>
<text x="1649.72" y="2281.8">Thr</text>
<text x="1738.24" y="2281.8">Trp</text>
<text x="1826.76" y="2281.8">Tyr</text>
<text x="1915.28" y="2281.8">Val</text>
<text font-size="50.2" transform="translate(119.3 1863) rotate(-90)">RSCU</text>
<text x="226.3" y="2611.1">GCA</text>
<text x="314.9" y="2611.1">CGA</text>
<text x="403.5" y="2611.1">AAC</text>
<text x="492.1" y="2611.1">GAC</text>
<text x="580.7" y="2611.1">TGC</text>
<text x="669.3" y="2611.1">CAA</text>
<text x="757.9" y="2611.1">GAA</text>
<text x="846.5" y="2611.1">GGA</text>
<text x="935.1" y="2611.1">CAC</text>
<text x="1023.7" y="2611.1">ATC</text>
<text x="1112.3" y="2611.1">CTA</text>
<text x="1200.9" y="2611.1">AAA</text>
<text x="1289.5" y="2611.1">ATA</text>
<text x="1378.1" y="2611.1">TTC</text>
<text x="1466.7" y="2611.1">CCA</text>
<text x="1555.3" y="2611.1">AGC</text>
<text x="1643.9" y="2611.1">ACA</text>
<text x="1732.5" y="2611.1">TGA</text>
<text x="1821.1" y="2611.1">TAC</text>
<text x="1909.7" y="2611.1">GTA</text>
<text x="226.3" y="2560.5">GCC</text>
<text x="314.9" y="2560.5">CGC</text>
<text x="403.5" y="2560.5">AAT</text>
<text x="492.1" y="2560.5">GAT</text>
<text x="580.7" y="2560.5">TGT</text>
<text x="669.3" y="2560.5">CAG</text>
<text x="757.9" y="2560.5">GAG</text>
<text x="846.5" y="2560.5">GGC</text>
<text x="935.1" y="2560.5">CAT</text>
<text x="1023.7" y="2560.5">ATT</text>
<text x="1112.3" y="2560.5">CTC</text>
<text x="1200.9" y="2560.5">AAG</text>
<text x="1289.5" y="2560.5">ATC</text>
<text x="1378.1" y="2560.5">TTT</text>
<text x="1466.7" y="2560.5">CCC</text>
<text x="1555.3" y="2560.5">AGT</text>
<text x="1643.9" y="2560.5">ACC</text>
<text x="1732.5" y="2560.5">TGG</text>
<text x="1821.1" y="2560.5">TAT</text>
<text x="1909.7" y="2560.5">GTC</text>
<text x="226.3" y="2509.9">GCG</text>
<text x="314.9" y="2509.9">CGG</text>
<text x="846.5" y="2509.9">GGG</text>
<text x="1112.3" y="2509.9">CTG</text>
<text x="1289.5" y="2509.9">ATG</text>
<text x="1466.7" y="2509.9">CCG</text>
<text x="1555.3" y="2509.9">TCA</text>
<text x="1643.9" y="2509.9">ACG</text>
<text x="1909.7" y="2509.9">GTG</text>
<text x="226.3" y="2459.3">GCT</text>
<text x="314.9" y="2459.3">CGT</text>
<text x="846.5" y="2459.3">GGT</text>
<text x="1112.3" y="2459.3">CTT</text>
<text x="1289.5" y="2459.3">ATT</text>
<text x="1466.7" y="2459.3">CCT</text>
<text x="1555.3" y="2459.3">TCC</text>
<text x="1643.9" y="2459.3">ACT</text>
<text x="1909.7" y="2459.3">GTT</text>
<text x="1112.3" y="2409">TTA</text>
<text x="1289.5" y="2409">GTG</text>
<text x="1555.3" y="2409">TCG</text>
<text x="1112.3" y="2358.4">TTG</text>
<text x="1555.3" y="2358.4">TCT</text>
</g>
<g font-family="'Liberation Serif', serif" font-size="78" fill="#000">
<text transform="translate(965.7 1413) scale(0.85 0.967)">(</text><text transform="translate(990 1413) scale(1 1.023)" font-weight="bold">A</text><text transform="translate(1049.2 1413) scale(0.85 0.967)">)</text>
<text transform="translate(970.5 2779) scale(0.85 0.967)">(</text><text transform="translate(994.8 2779) scale(0.88 1.02)" font-weight="bold">B</text><text transform="translate(1044.1 2779) scale(0.85 0.967)">)</text>
</g>
</svg>
</body></html>
